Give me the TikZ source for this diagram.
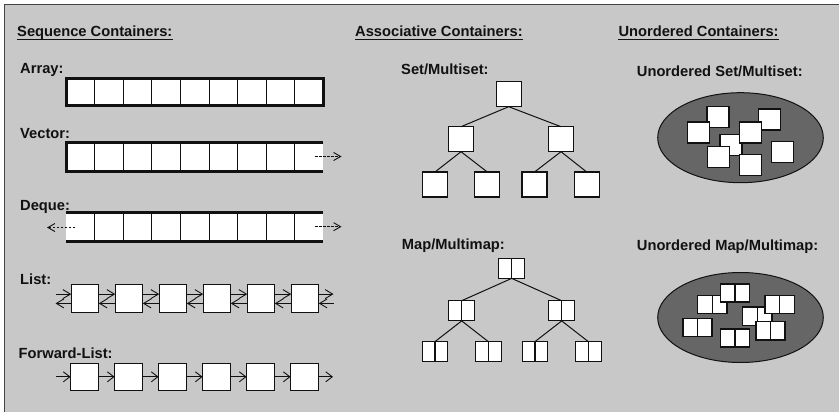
\documentclass[tikz,border=0pt]{standalone}
\usepackage{fontspec}
\setmainfont{Liberation Sans}
\usetikzlibrary{arrows.meta,shapes.geometric}
\definecolor{bg}{HTML}{C8C8C8}
\definecolor{frame}{HTML}{444444}
\definecolor{ell}{HTML}{666666}
\definecolor{ink}{HTML}{111111}
\begin{document}
\begin{tikzpicture}[x=1pt,y=-1pt,
  lbl/.style={anchor=base west,inner sep=0pt,font=\fontsize{14.7}{17}\selectfont\bfseries,text=ink},
  cellbase/.style={fill=white,minimum width=28.6pt,inner sep=0pt,outer sep=0pt},
  cell/.style={cellbase,draw=ink,line width=1pt},
  thickln/.style={draw=ink,line width=3pt},
  lbox/.style={draw=ink,line width=1.1pt,fill=white,minimum width=27.5pt,minimum height=27.8pt,inner sep=0pt,outer sep=0pt},
  tbox/.style={draw=ink,line width=1.1pt,fill=white,minimum width=25pt,minimum height=25pt,inner sep=0pt,outer sep=0pt},
  dbox/.style={draw=ink,line width=1.1pt,fill=white,inner sep=0pt,outer sep=0pt,
    path picture={\draw[ink,line width=1.1pt] (path picture bounding box.north) -- (path picture bounding box.south);}},
  mbox/.style={dbox,minimum width=25.6pt,minimum height=20.2pt},
  ubox/.style={draw=ink,line width=1.3pt,fill=white,minimum width=22pt,minimum height=21pt,inner sep=0pt,outer sep=0pt},
  umbox/.style={dbox,line width=1.3pt,minimum width=29.2pt,minimum height=18.2pt},
  edge/.style={draw=ink,line width=1pt},
  lar/.style={draw=ink,line width=0.9pt,-{Straight Barb[length=7.5pt,width=9pt,line width=0.9pt]}},
  far/.style={draw=ink,line width=0.9pt,-{Straight Barb[length=6.5pt,width=10pt,line width=0.9pt]}},
  dar/.style={draw=ink,line width=0.9pt,dash pattern=on 2.5pt off 1.5pt,-{Straight Barb[length=7pt,width=8pt,line width=0.9pt]}},
  ellsty/.style={draw=ink,line width=1pt,fill=ell}
]
\useasboundingbox (0,0) rectangle (839,412);
\fill[white] (0,0) rectangle (839,412);
\fill[bg] (4.5,4.5) rectangle (839,412);
\draw[frame,line width=1.6pt] (4.5,412) -- (4.5,4.5) -- (839,4.5);

% headers
\node[lbl] (h1) at (17,37) {Sequence Containers:};
\node[lbl] (h2) at (355,37) {Associative Containers:};
\node[lbl] (h3) at (618.3,37) {Unordered Containers:};
\foreach \h in {h1,h2,h3}
  \draw[ink,line width=1.3pt] ([yshift=-2.6pt]\h.base west) -- ([yshift=-2.6pt]\h.base east);

% labels
\node[lbl] (tArr) at (20,73.5) {Array:};
\node[lbl] (tVec) at (20,138.5) {Vector:};
\node[lbl] (tDeq) at (20,210.5) {Deque:};
\node[lbl] (tLst) at (20,284) {List:};
\node[lbl] (tFwd) at (18.5,358.5) {Forward-List:};
\node[lbl] (tSet) at (401,75) {Set/Multiset:};
\node[lbl] (tMap) at (401.7,249.5) {Map/Multimap:};
\node[lbl] (tUS) at (636.7,77) {Unordered Set/Multiset:};
\node[lbl] (tUM) at (636.7,250) {Unordered Map/Multimap:};

% array
\foreach \k in {1,...,9}
  \node[cell,minimum height=27.6pt] (a\k) at ({80.3+28.6*(\k-1)},92) {};
\draw[thickln] (a1.north west) rectangle (a9.south east);

% vector
\foreach \k in {1,...,8}
  \node[cell,minimum height=28.5pt] (v\k) at ({80.3+28.6*(\k-1)},157) {};
\node[cellbase,minimum height=28.5pt] (v9) at ({80.3+28.6*8},157) {};
\draw[thickln] (v9.north east) -- (v1.north west) -- (v1.south west) -- (v9.south east);
\coordinate (vs) at (315,156.5);
\coordinate (ve) at (341.5,156.5);
\draw[dar] (vs) -- (ve);

% deque
\node[cellbase,minimum height=29pt] (d1) at (80.3,226.75) {};
\foreach \k in {2,...,8}
  \node[cell,minimum height=29pt] (d\k) at ({80.3+28.6*(\k-1)},226.75) {};
\node[cellbase,minimum height=29pt] (d9) at ({80.3+28.6*8},226.75) {};
\draw[thickln] (d1.north west) -- (d9.north east);
\draw[thickln] (d1.south west) -- (d9.south east);
\coordinate (dls) at (75,227.5);
\coordinate (dle) at (47,227.5);
\coordinate (drs) at (315,226.7);
\coordinate (dre) at (341.5,226.7);
\draw[dar] (dls) -- (dle);
\draw[dar] (drs) -- (dre);

% list
\foreach \k in {1,...,6}
  \node[lbox] (L\k) at ({85+44*(\k-1)},298.8) {};
\coordinate (Lin) at (55.5,298.8);
\coordinate (Lout) at (333.5,298.8);
\draw[lar] ([yshift=4.7pt]Lin) -- ([yshift=4.7pt]L1.west);
\draw[lar] ([yshift=-4.6pt]L1.west) -- ([yshift=-4.6pt]Lin);
\foreach \i/\j in {1/2,2/3,3/4,4/5,5/6} {
  \draw[lar] ([yshift=4.7pt]L\i.east) -- ([yshift=4.7pt]L\j.west);
  \draw[lar] ([yshift=-4.6pt]L\j.west) -- ([yshift=-4.6pt]L\i.east);
}
\draw[lar] ([yshift=4.7pt]L6.east) -- ([yshift=4.7pt]Lout);
\draw[lar] ([yshift=-4.6pt]Lout) -- ([yshift=-4.6pt]L6.east);

% forward list
\foreach \k in {1,...,6}
  \node[lbox,minimum height=27.2pt] (F\k) at ({84.3+44*(\k-1)},376.8) {};
\coordinate (Fin) at (56,376.8);
\coordinate (Fout) at (333,376.8);
\draw[far] (Fin) -- (F1.west);
\foreach \i/\j in {1/2,2/3,3/4,4/5,5/6}
  \draw[far] (F\i.east) -- (F\j.west);
\draw[far] (F6.east) -- (Fout);

% set tree
\node[tbox] (s0) at (508.7,94.2) {};
\node[tbox] (s1) at (461,139.2) {};
\node[tbox] (s2) at (561,139.2) {};
\node[tbox] (s3) at (435,184.5) {};
\node[tbox] (s4) at (487.3,184.5) {};
\node[tbox] (s5) at (534.5,184.5) {};
\node[tbox] (s6) at (586.7,184.5) {};
\draw[edge] (s0.south) -- (s1.north);
\draw[edge] (s0.south) -- (s2.north);
\draw[edge] (s1.south) -- (s3.north);
\draw[edge] (s1.south) -- (s4.north);
\draw[edge] (s2.south) -- (s5.north);
\draw[edge] (s2.south) -- (s6.north);

% map tree
\node[mbox] (m0) at (511.7,268.3) {};
\node[mbox] (m1) at (461.7,310.8) {};
\node[mbox] (m2) at (561.7,310.8) {};
\node[mbox] (m3) at (435,351.7) {};
\node[mbox] (m4) at (488.3,351.7) {};
\node[mbox] (m5) at (535,351.7) {};
\node[mbox] (m6) at (588.3,351.7) {};
\draw[edge] (m0.south) -- (m1.north);
\draw[edge] (m0.south) -- (m2.north);
\draw[edge] (m1.south) -- (m3.north);
\draw[edge] (m1.south) -- (m4.north);
\draw[edge] (m2.south) -- (m5.north);
\draw[edge] (m2.south) -- (m6.north);

% unordered set
\node[ellsty,ellipse,minimum width=165.6pt,minimum height=90pt,inner sep=0pt] (e1) at (740.5,137.7) {};
\node[ubox] (uA) at (718,117.2) {};
\node[ubox] (uB) at (698.7,132.5) {};
\node[ubox] (uC) at (769.7,119.5) {};
\node[ubox] (uE) at (731,145.2) {};
\node[ubox] (uD) at (750.3,132.5) {};
\node[ubox] (uF) at (718.3,157) {};
\node[ubox] (uG) at (750.3,164.7) {};
\node[ubox] (uH) at (782.8,152) {};

% unordered map
\node[ellsty,ellipse,minimum width=165.6pt,minimum height=90pt,inner sep=0pt] (e2) at (740.5,317.5) {};
\node[umbox] (ma) at (712.3,304.7) {};
\node[umbox] (mb) at (735,293) {};
\node[umbox] (mc) at (697.5,327.5) {};
\node[umbox] (md) at (735,338) {};
\node[umbox] (me) at (757.3,316.2) {};
\node[umbox] (mf) at (779.7,304.7) {};
\node[umbox] (mg) at (770.5,330.8) {};
\end{tikzpicture}
\end{document}
